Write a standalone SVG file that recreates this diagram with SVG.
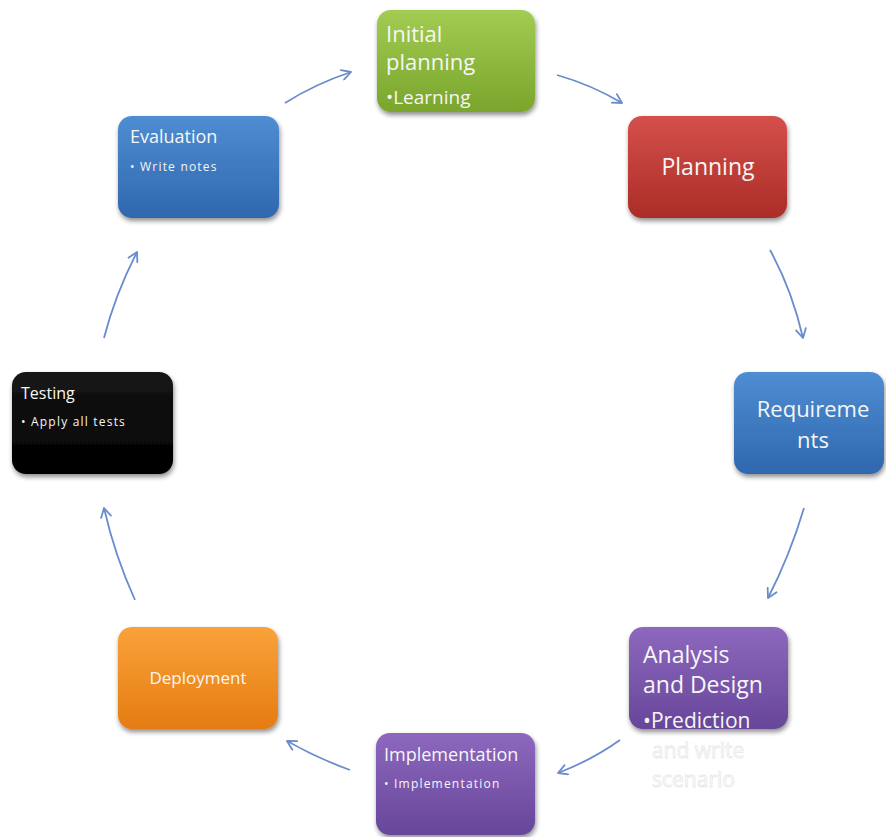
<svg xmlns="http://www.w3.org/2000/svg" width="886" height="837" viewBox="0 0 886 837">
<defs>
  <linearGradient id="gGreen" x1="0" y1="0" x2="0" y2="1"><stop offset="0" stop-color="#a2cc52"/><stop offset="1" stop-color="#7aa52c"/></linearGradient>
  <linearGradient id="gRed" x1="0" y1="0" x2="0" y2="1"><stop offset="0" stop-color="#d4504b"/><stop offset="1" stop-color="#ab2c27"/></linearGradient>
  <linearGradient id="gBlue" x1="0" y1="0" x2="0" y2="1"><stop offset="0" stop-color="#4f8dd2"/><stop offset="1" stop-color="#2f67ae"/></linearGradient>
  <linearGradient id="gPurple" x1="0" y1="0" x2="0" y2="1"><stop offset="0" stop-color="#8d68be"/><stop offset="1" stop-color="#67469a"/></linearGradient>
  <linearGradient id="gOrange" x1="0" y1="0" x2="0" y2="1"><stop offset="0" stop-color="#f9a23a"/><stop offset="1" stop-color="#e57c12"/></linearGradient>
  <linearGradient id="gBlack" x1="0" y1="0" x2="0" y2="1"><stop offset="0" stop-color="#161616"/><stop offset="1" stop-color="#000000"/></linearGradient>
  <filter id="shadow" x="-10%" y="-10%" width="125%" height="130%">
    <feGaussianBlur in="SourceAlpha" stdDeviation="2.5"/>
    <feOffset dx="1" dy="3" result="b"/>
    <feComponentTransfer><feFuncA type="linear" slope="0.45"/></feComponentTransfer>
    <feMerge><feMergeNode/><feMergeNode in="SourceGraphic"/></feMerge>
  </filter>
  <marker id="arrow" viewBox="0 0 12 12" refX="10" refY="6" markerWidth="12" markerHeight="12" markerUnits="userSpaceOnUse" orient="auto">
    <path d="M1,1 L10,6 L1,11" fill="none" stroke="#6a8ccc" stroke-width="1.8" stroke-linecap="round" stroke-linejoin="round"/>
  </marker>
</defs>
<style>
  .box { filter: url(#shadow); }
  .t { font-family: "Open Sans", "Liberation Sans", sans-serif; fill: #f6f6f6; }
  .small { font-size: 12px; letter-spacing: 1.2px; }
  .conn { fill: none; stroke: #6a8ccc; stroke-width: 1.8; marker-end: url(#arrow); }
  .ghost { font-family: "Open Sans", "Liberation Sans", sans-serif; font-size: 21px; fill: #ffffff; stroke: #e8e8e8; stroke-width: 0.8; }
</style>

<g id="connectors">
  <path class="conn" d="M285,103 Q315,84 351,72"/>
  <path class="conn" d="M557,75 Q592,85 622,103"/>
  <path class="conn" d="M770,250 Q792,290 803,338"/>
  <path class="conn" d="M804,508 Q790,555 768,598"/>
  <path class="conn" d="M620,740 Q592,760 558,773"/>
  <path class="conn" d="M350,770 Q317,758 287,741"/>
  <path class="conn" d="M135,600 Q115,556 104,508"/>
  <path class="conn" d="M104,338 Q115,295 137,252"/>
</g>

<g id="initial-planning">
  <rect class="box" x="377" y="10" width="158" height="102" rx="14" fill="url(#gGreen)"/>
  <text class="t" font-size="22" x="386" y="42">Initial</text>
  <text class="t" font-size="22" x="386" y="70">planning</text>
  <text class="t" font-size="19" x="386" y="104">•Learning</text>
</g>

<g id="planning">
  <rect class="box" x="628" y="116" width="159" height="102" rx="14" fill="url(#gRed)"/>
  <text class="t" font-size="23" x="708" y="175" text-anchor="middle">Planning</text>
</g>

<g id="requirements">
  <rect class="box" x="734" y="372" width="150" height="102" rx="14" fill="url(#gBlue)"/>
  <text class="t" font-size="22" x="813" y="417" text-anchor="middle">Requireme</text>
  <text class="t" font-size="22" x="813" y="448" text-anchor="middle">nts</text>
</g>

<g id="analysis-design">
  <rect class="box" x="629" y="627" width="159" height="102" rx="14" fill="url(#gPurple)"/>
  <text class="t" font-size="23" x="643" y="663">Analysis</text>
  <text class="t" font-size="23" x="643" y="693">and Design</text>
  <text class="t" font-size="21" x="643" y="728">•Prediction</text>
  <text class="ghost" x="652" y="758">and write</text>
  <text class="ghost" x="652" y="787">scenario</text>
</g>

<g id="implementation">
  <rect class="box" x="376" y="733" width="159" height="102" rx="14" fill="url(#gPurple)"/>
  <text class="t" font-size="18" x="384" y="761">Implementation</text>
  <text class="t small" x="384" y="788">• Implementation</text>
</g>

<g id="deployment">
  <rect class="box" x="118" y="627" width="160" height="102" rx="14" fill="url(#gOrange)"/>
  <text class="t" font-size="17" x="198" y="684" text-anchor="middle">Deployment</text>
</g>

<g id="testing">
  <rect class="box" x="12" y="372" width="161" height="102" rx="14" fill="url(#gBlack)"/>
  <text class="t" font-size="16" x="21" y="399">Testing</text>
  <text class="t small" x="21" y="426">• Apply all tests</text>
</g>

<g id="evaluation">
  <rect class="box" x="118" y="116" width="161" height="102" rx="14" fill="url(#gBlue)"/>
  <text class="t" font-size="18" x="130" y="143">Evaluation</text>
  <text class="t small" x="130" y="171">• Write notes</text>
</g>
</svg>
